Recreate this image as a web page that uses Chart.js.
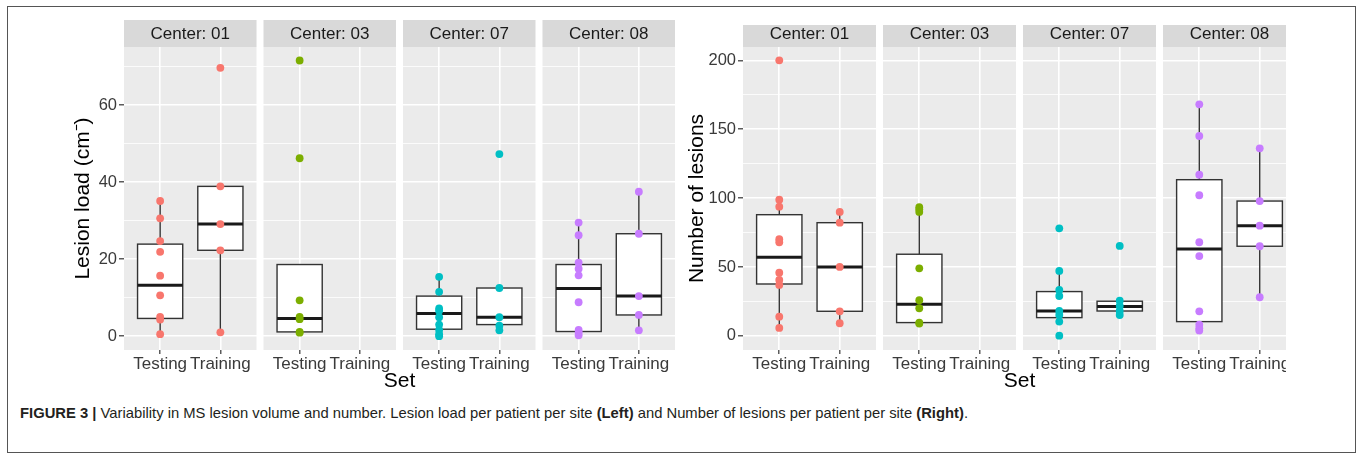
<!DOCTYPE html>
<html>
<head>
<meta charset="utf-8">
<script src="https://cdn.jsdelivr.net/npm/chart.js@4.4.1/dist/chart.umd.min.js"></script>
<style>
  html, body { margin: 0; padding: 0; background: #fff; }
  body { width: 1360px; height: 459px; position: relative; overflow: hidden; font-family: 'Liberation Sans', Arial, sans-serif; }
  #frame { position: absolute; left: 7px; top: 6px; width: 1349px; height: 447px; border: 1px solid #555; box-sizing: border-box; }
  #leftWrap { position: absolute; left: 0; top: 0; width: 680px; height: 400px; }
  #rightWrap { position: absolute; left: 680px; top: 0; width: 606px; height: 400px; overflow: hidden; }
  #caption { position: absolute; left: 20px; top: 404px; line-height: 18px; font-size: 14.5px; color: #231f20; white-space: nowrap; transform-origin: 0 50%; font-family: 'Liberation Sans Narrow', 'Liberation Sans', Arial, sans-serif; }
  #caption b { font-weight: bold; }
</style>
</head>
<body>
<div id="frame"></div>
<div id="leftWrap"><canvas id="left" width="680" height="400"></canvas></div>
<div id="rightWrap"><canvas id="right" width="680" height="400"></canvas></div>
<div id="caption"><b>FIGURE 3 |</b> Variability in MS lesion volume and number. Lesion load per patient per site <b>(Left)</b> and Number of lesions per patient per site <b>(Right)</b>.</div>
<script>
// ---------- data ----------
const centers = ['01', '03', '07', '08'];
const sets = ['Testing', 'Training'];
const centerColors = ['#F8766D', '#7CAE00', '#00BFC4', '#C77CFF'];

// Lesion load (left) – points per center / set
const loadC01Testing  = [35.1, 30.6, 24.7, 21.9, 15.7, 10.6, 5.0, 4.3, 0.5];
const loadC01Training = [69.7, 38.9, 29.1, 22.3, 1.0];
const loadC03Testing  = [71.6, 46.2, 9.3, 5.0, 4.4, 1.1, 0.9];
const loadC03Training = [];
const loadC07Testing  = [15.4, 11.5, 7.2, 6.6, 4.9, 3.0, 1.6, 0.5, 0.0];
const loadC07Training = [47.3, 12.5, 4.9, 2.7, 1.5];
const loadC08Testing  = [29.5, 26.2, 19.1, 17.5, 15.8, 8.8, 1.6, 0.9, 0.2];
const loadC08Training = [37.5, 26.6, 10.4, 5.5, 1.5];
// box stats [lower whisker, q1, median, q3, upper whisker]
const loadBoxC01Testing  = [0.5, 4.6, 13.2, 23.9, 35.1];
const loadBoxC01Training = [1.0, 22.3, 29.1, 38.9, 38.9];
const loadBoxC03Testing  = [1.0, 1.1, 4.6, 18.6, 18.6];
const loadBoxC03Training = null;
const loadBoxC07Testing  = [0.0, 1.8, 5.9, 10.4, 15.4];
const loadBoxC07Training = [1.5, 3.0, 4.9, 12.5, 12.5];
const loadBoxC08Testing  = [0.2, 1.2, 12.4, 18.6, 29.5];
const loadBoxC08Training = [1.5, 5.5, 10.4, 26.6, 37.5];
const loadTicks = [0, 10, 20, 30, 40, 50, 60, 70];
const loadMajor = [0, 20, 40, 60];
const loadRange = [-3.6, 75.1];

// Number of lesions (right)
const numC01Testing  = [200, 98.9, 93.8, 70.2, 68.0, 45.9, 40.6, 37.0, 14.0, 5.8];
const numC01Training = [90.0, 82.2, 50.1, 17.9, 9.2];
const numC03Testing  = [93.4, 91.9, 90.0, 49.1, 25.9, 20.1, 9.7, 9.0];
const numC03Training = [];
const numC07Testing  = [78.1, 47.2, 33.4, 29.0, 18.1, 15.2, 10.4, 0.2];
const numC07Training = [65.3, 25.6, 21.8, 18.1, 15.2];
const numC08Testing  = [168.1, 145.1, 117.0, 102.1, 68.0, 58.0, 17.9, 8.2, 5.6, 3.9];
const numC08Training = [136.2, 97.9, 80.0, 65.1, 28.1];
const numBoxC01Testing  = [5.8, 37.7, 57.1, 88.0, 98.9];
const numBoxC01Training = [9.2, 17.9, 50.1, 82.2, 90.0];
const numBoxC03Testing  = [9.0, 9.7, 23.0, 59.3, 93.4];
const numBoxC03Training = null;
const numBoxC07Testing  = [10.4, 13.3, 18.1, 32.2, 47.2];
const numBoxC07Training = [18.1, 18.1, 21.3, 25.2, 25.2];
const numBoxC08Testing  = [3.9, 10.4, 63.1, 113.4, 168.1];
const numBoxC08Training = [28.1, 65.1, 80.0, 97.9, 136.2];
const numTicks = [0, 25, 50, 75, 100, 125, 150, 175, 200];
const numMajor = [0, 50, 100, 150, 200];
const numRange = [-10.2, 209.7];

// ---------- layout constants ----------
const FACET_GAP = 0.116;           // gap between facet panels, in category units
const FACET_STEP = 2.2 + FACET_GAP; // each facet spans 2 categories with 0.6 expansion
const FONT = "'Liberation Sans', Arial, sans-serif";
Chart.defaults.font.family = FONT;

const loadPoints = [[loadC01Testing, loadC01Training], [loadC03Testing, loadC03Training], [loadC07Testing, loadC07Training], [loadC08Testing, loadC08Training]];
const loadBoxes = [[loadBoxC01Testing, loadBoxC01Training], [loadBoxC03Testing, loadBoxC03Training], [loadBoxC07Testing, loadBoxC07Training], [loadBoxC08Testing, loadBoxC08Training]];
const numPoints = [[numC01Testing, numC01Training], [numC03Testing, numC03Training], [numC07Testing, numC07Training], [numC08Testing, numC08Training]];
const numBoxes = [[numBoxC01Testing, numBoxC01Training], [numBoxC03Testing, numBoxC03Training], [numBoxC07Testing, numBoxC07Training], [numBoxC08Testing, numBoxC08Training]];

const catPos = (k, j) => k * FACET_STEP + j + 1;

const facetPlugin = {
  id: 'facets',
  beforeDraw(chart, args, opts) {
    const { ctx, chartArea, scales: { x } } = chart;
    ctx.save();
    centers.forEach((c, k) => {
      const l = x.getPixelForValue(k * FACET_STEP + 0.4);
      const r = x.getPixelForValue(k * FACET_STEP + 2.6);
      ctx.fillStyle = '#EBEBEB';
      ctx.fillRect(l, chartArea.top, r - l, chartArea.bottom - chartArea.top);
      ctx.fillStyle = '#D9D9D9';
      ctx.fillRect(l, opts.stripTop, r - l, chartArea.top - opts.stripTop);
      ctx.fillStyle = '#1A1A1A';
      ctx.font = '17px ' + FONT;
      ctx.textAlign = 'center';
      ctx.textBaseline = 'middle';
      ctx.fillText('Center: ' + c, (l + r) / 2, 34);
    });
    ctx.restore();
  },
  beforeDatasetsDraw(chart, args, opts) {
    const { ctx, scales: { x, y } } = chart;
    const half = Math.abs(x.getPixelForValue(0.375) - x.getPixelForValue(0));
    ctx.save();
    opts.boxes.forEach((pair, k) => {
      pair.forEach((b, j) => {
        if (!b) return;
        const xc = x.getPixelForValue(catPos(k, j));
        const [lo, q1, med, q3, hi] = b.map(v => y.getPixelForValue(v));
        ctx.strokeStyle = '#333333';
        ctx.lineWidth = 1.4;
        ctx.beginPath();
        ctx.moveTo(xc, q3); ctx.lineTo(xc, hi);
        ctx.moveTo(xc, q1); ctx.lineTo(xc, lo);
        ctx.stroke();
        ctx.fillStyle = '#FFFFFF';
        ctx.fillRect(xc - half, q3, 2 * half, q1 - q3);
        ctx.strokeRect(xc - half, q3, 2 * half, q1 - q3);
        ctx.lineWidth = 3;
        ctx.strokeStyle = '#1A1A1A';
        ctx.beginPath();
        ctx.moveTo(xc - half, med); ctx.lineTo(xc + half, med);
        ctx.stroke();
      });
    });
    ctx.restore();
  }
};

function makeChart(id, cfg) {
  const datasets = cfg.points.map((pair, k) => ({
    data: pair.flatMap((vals, j) => vals.map(v => ({ x: catPos(k, j), y: v }))),
    backgroundColor: centerColors[k],
    borderColor: centerColors[k],
    pointRadius: 3.9,
    pointBorderWidth: 0,
    showLine: false
  }));
  return new Chart(document.getElementById(id), {
    type: 'scatter',
    data: { datasets },
    plugins: [facetPlugin],
    options: {
      responsive: false,
      animation: false,
      events: [],
      layout: { padding: cfg.padding },
      plugins: {
        legend: { display: false },
        tooltip: { enabled: false },
        facets: { stripTop: cfg.stripTop, boxes: cfg.boxes }
      },
      scales: {
        x: {
          type: 'linear',
          min: 0.4,
          max: 3 * FACET_STEP + 2.6,
          afterBuildTicks: s => { s.ticks = centers.flatMap((c, k) => sets.map((t, j) => ({ value: catPos(k, j) }))); },
          afterFit: s => { s.height = 44; },
          ticks: {
            autoSkip: false, maxRotation: 0, minRotation: 0, padding: 0,
            color: '#3A3A3A', font: { size: 17 },
            callback: (v, i) => sets[i % 2]
          },
          grid: { color: '#FFFFFF', lineWidth: 1.6, tickLength: 4, tickColor: '#333333', tickWidth: 1.2 },
          border: { display: false },
          title: { display: true, text: 'Set', color: '#000000', font: { size: 21 }, padding: { top: 0, bottom: 0 } }
        },
        y: {
          type: 'linear',
          min: cfg.range[0],
          max: cfg.range[1],
          afterBuildTicks: s => { s.ticks = cfg.ticks.map(v => ({ value: v })); },
          afterFit: s => { s.width = cfg.yWidth; },
          ticks: {
            padding: 2, color: '#3A3A3A', font: { size: 16.5 },
            callback: v => cfg.major.includes(v) ? String(v) : ''
          },
          grid: {
            color: '#FFFFFF',
            lineWidth: c => cfg.major.includes(c.tick.value) ? 1.6 : 0.8,
            tickLength: 5,
            tickColor: c => cfg.major.includes(c.tick.value) ? '#333333' : 'rgba(0,0,0,0)',
            tickWidth: 1.2
          },
          border: { display: false },
          title: { display: true, text: cfg.yTitle, color: '#000000', font: { size: 21 }, padding: { top: cfg.titlePad, bottom: 0 } }
        }
      }
    }
  });
}

makeChart('left', {
  points: loadPoints, boxes: loadBoxes, ticks: loadTicks, major: loadMajor, range: loadRange,
  yTitle: 'Lesion load (cm\u207B)', padding: { left: 60, right: 5, top: 47, bottom: 6 },
  yWidth: 64, titlePad: 10.4, stripTop: 20
});
makeChart('right', {
  points: numPoints, boxes: numBoxes, ticks: numTicks, major: numMajor, range: numRange,
  yTitle: 'Number of lesions', padding: { left: 5, right: 64, top: 47, bottom: 6 },
  yWidth: 58, titlePad: 0, stripTop: 25
});

// fit the caption to the reference's line length
const cap = document.getElementById('caption');
const w = cap.getBoundingClientRect().width;
cap.style.transform = 'scaleX(' + (948 / w) + ')';
</script>
</body>
</html>
